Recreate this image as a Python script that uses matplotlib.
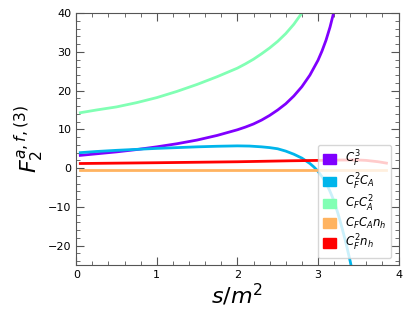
import matplotlib
matplotlib.use("Agg")
import matplotlib.pyplot as plt
from matplotlib.patches import Patch
from matplotlib.ticker import AutoMinorLocator

# values
s_cf3 = [0.05, 0.25, 0.5, 0.75, 1.0, 1.25, 1.5, 1.75, 2.0, 2.1, 2.2, 2.3, 2.4,
         2.5, 2.6, 2.7, 2.8, 2.9, 3.0, 3.05, 3.1, 3.15, 3.2, 3.25]
cf3 = [3.3, 3.7, 4.2, 4.8, 5.5, 6.3, 7.25, 8.45, 9.9, 10.6, 11.4, 12.4, 13.6,
       15.0, 16.6, 18.6, 21.0, 24.0, 27.8, 30.2, 33.0, 36.4, 40.5, 45.5]

s_cf2ca = [0.05, 0.25, 0.5, 0.75, 1.0, 1.25, 1.5, 1.75, 2.0, 2.15, 2.3, 2.4, 2.5,
           2.6, 2.7, 2.8, 2.9, 2.95, 3.0, 3.05, 3.1, 3.15, 3.2, 3.25, 3.3, 3.35,
           3.4, 3.43]
cf2ca = [4.0, 4.3, 4.6, 4.85, 5.1, 5.3, 5.5, 5.65, 5.75, 5.7, 5.5, 5.3, 5.0,
         4.4, 3.6, 2.6, 1.2, 0.3, -0.8, -2.2, -3.8, -6.0, -8.5, -11.8, -15.5, -19.5,
         -24.0, -27.0]

s_cfca2 = [0.05, 0.25, 0.5, 0.75, 1.0, 1.25, 1.5, 1.75, 2.0, 2.1, 2.2, 2.3, 2.4,
           2.5, 2.6, 2.7, 2.8, 2.9]
cfca2 = [14.3, 15.0, 15.8, 16.9, 18.2, 19.8, 21.6, 23.6, 25.8, 26.9, 28.1, 29.5,
         31.0, 32.7, 34.7, 37.1, 40.0, 43.4]

s_nh = [0.05, 1.0, 2.0, 2.65, 3.0, 3.3, 3.5, 3.6, 3.75, 3.85]
cfcanh = [-0.5, -0.5, -0.5, -0.5, -0.5, -0.5, -0.5, -0.5, -0.5, -0.5]
cf2nh = [1.2, 1.4, 1.65, 1.9, 2.0, 2.1, 2.1, 2.0, 1.65, 1.3]

labels = ["$C_F^3$", "$C_F^2C_A$", "$C_FC_A^2$", "$C_FC_An_h$", "$C_F^2n_h$"]
colors = [plt.cm.rainbow(v) for v in [0.0, 0.25, 0.5, 0.75, 1.0]]

fig = plt.figure(figsize=(4.1, 3.19), dpi=100)
ax = fig.add_axes([0.186, 0.169, 0.786, 0.79])

ax.plot(s_cf3, cf3, color=colors[0], lw=2)
ax.plot(s_cf2ca, cf2ca, color=colors[1], lw=2)
ax.plot(s_cfca2, cfca2, color=colors[2], lw=2)
ax.plot(s_nh, cfcanh, color=colors[3], lw=2)
ax.plot(s_nh, cf2nh, color=colors[4], lw=2)

ax.set_xlim(0, 4)
ax.set_ylim(-25, 40)
ax.set_xticks([0, 1, 2, 3, 4])
ax.set_yticks([-20, -10, 0, 10, 20, 30, 40])
ax.xaxis.set_minor_locator(AutoMinorLocator(5))
ax.yaxis.set_minor_locator(AutoMinorLocator(5))
ax.tick_params(which="both", direction="in", top=True, right=True,
               labelsize=8, color="#555555")
ax.tick_params(which="major", length=6)
ax.tick_params(which="minor", length=3)
for sp in ax.spines.values():
    sp.set_color("#555555")

ax.set_xlabel("$s/m^2$", fontsize=16, labelpad=1)
ax.set_ylabel("$F_2^{a,f,(3)}$", fontsize=16, labelpad=2)

handles = [Patch(color=c, label=l) for c, l in zip(colors, labels)]
ax.legend(handles=handles, loc="lower right", fontsize=8.5, handlelength=1.1,
          handleheight=0.85, labelspacing=0.18, borderaxespad=0.6)

fig.savefig("out.png", dpi=100)
